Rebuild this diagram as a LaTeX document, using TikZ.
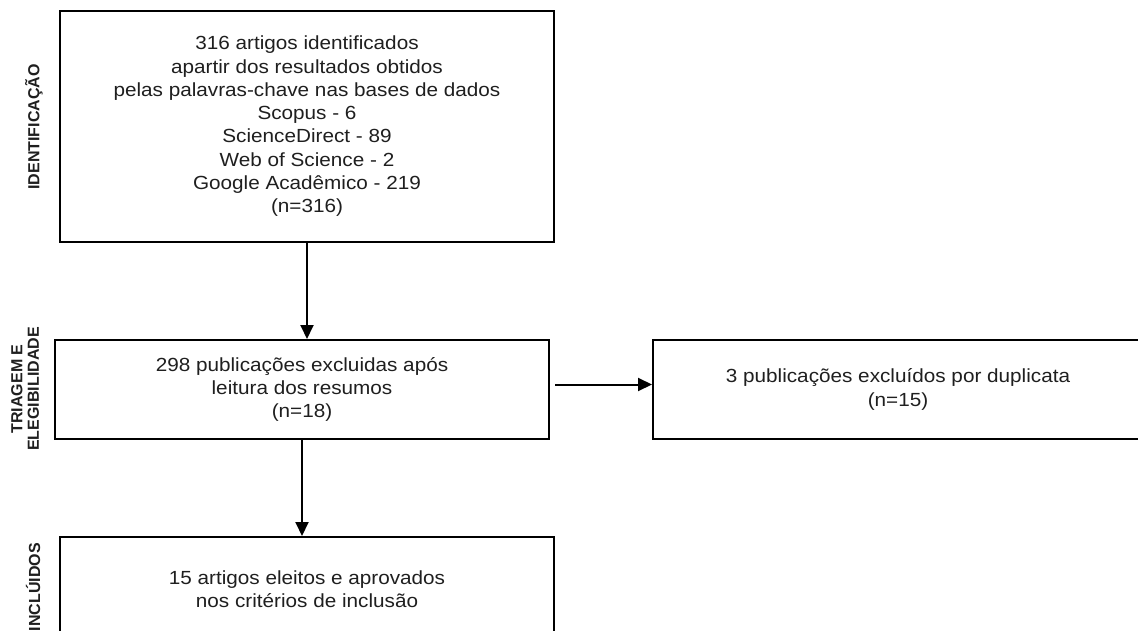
\documentclass[tikz,border=0pt]{standalone}
\usepackage{fontspec}
\setmainfont{Liberation Sans}[FakeStretch=1.09]
\newfontfamily\lblfont{Liberation Sans}
\usetikzlibrary{arrows.meta}
\tikzset{
  box/.style={draw=black, line width=2pt, inner sep=0pt, align=center,
    text=black!88, font=\fontsize{19}{23.3}\selectfont},
  conn/.style={draw=black, line width=2pt,
    -{Triangle[length=14pt,width=13pt]}},
  phase/.style={rotate=90, align=center, text=black!88,
    font=\lblfont\bfseries\fontsize{16}{16.5}\selectfont, inner sep=0pt}
}
\begin{document}
\begin{tikzpicture}[x=1pt,y=-1pt]
\useasboundingbox (0,0) rectangle (1138,631);
\fill[white] (0,0) rectangle (1138,631);

\node[box, minimum width=494pt, minimum height=230.7pt] (b1) at (307,126.35)
  {316 artigos identificados\\
   apartir dos resultados obtidos\\
   pelas palavras-chave nas bases de dados\\
   Scopus - 6\\
   ScienceDirect - 89\\
   Web of Science - 2\\
   Google Acadêmico - 219\\
   (n=316)};

\node[box, minimum width=494pt, minimum height=99pt] (b2) at (302,389.5)
  {298 publicações excluidas após\\
   leitura dos resumos\\
   (n=18)};

\node[box, minimum width=490pt, minimum height=99pt] (b3) at (898,389.5)
  {3 publicações excluídos por duplicata\\
   (n=15)};

\node[box, minimum width=494pt, minimum height=105pt] (b4) at (307,589.5)
  {15 artigos eleitos e aprovados\\
   nos critérios de inclusão};

\node[phase] (l1) at (34,127) {IDENTIFICAÇÃO};
\node[phase] (l2) at (25,389) {TRIAGEM E\\ELEGIBILIDADE};
\node[phase] (l3) at (33,587) {INCLÚIDOS};

\draw[conn] (b1.south) -- (b1.south |- b2.north);
\draw[conn] (b2.south) -- (b2.south |- b4.north);
\draw[conn, shorten <=5pt] ([yshift=5pt]b2.east) -- ([yshift=5pt]b3.west);
\end{tikzpicture}
\end{document}
